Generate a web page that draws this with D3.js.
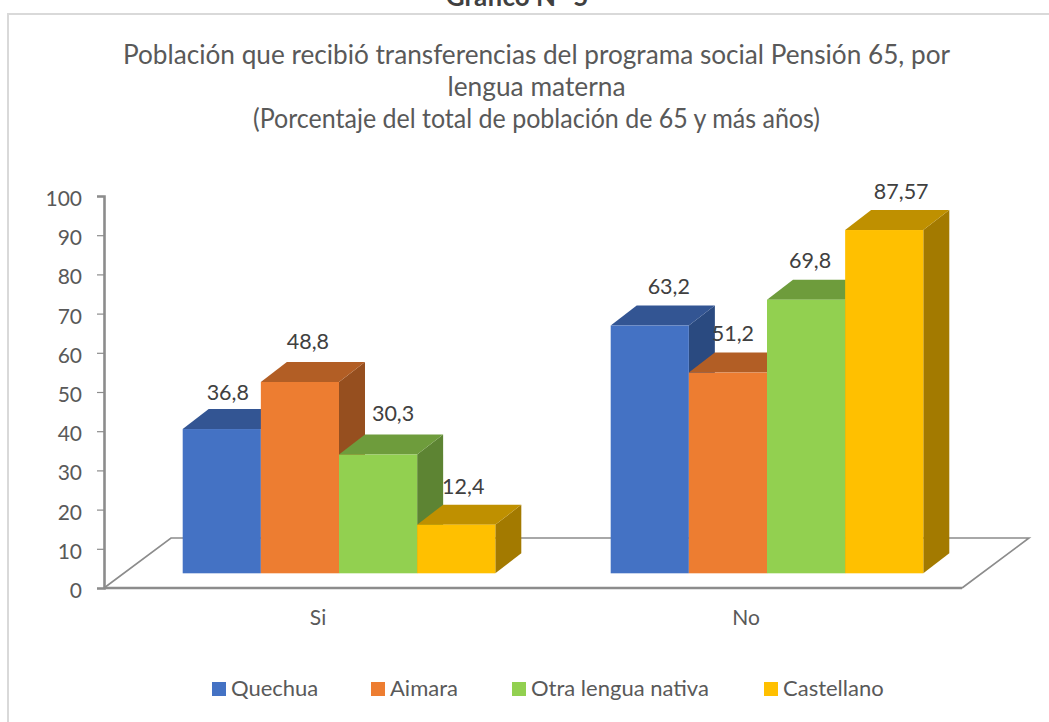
<!DOCTYPE html>
<html>
<head>
<meta charset="utf-8">
<script src="https://d3js.org/d3.v7.min.js"></script>
<style>
  html, body { margin: 0; padding: 0; background: #fff; overflow: hidden; }
  text { font-family: Lato, "Open Sans", sans-serif; fill: #595959; }
</style>
</head>
<body>
<div id="chart"></div>
<script>
var categories = ["Si", "No"];
var seriesNames = ["Quechua", "Aimara", "Otra lengua nativa", "Castellano"];
var quechua = [36.8, 63.2];
var aimara = [48.8, 51.2];
var otraLengua = [30.3, 69.8];
var castellano = [12.4, 87.57];
var seriesValues = [quechua, aimara, otraLengua, castellano];
var yTicks = d3.range(0, 101, 10);

var frontColors = ["#4472C4", "#ED7D31", "#92D050", "#FFC000"];
var topColors = ["#335593", "#B25E25", "#6E9C3C", "#BF9000"];
var sideColors = ["#2A4A80", "#964F1F", "#5D8433", "#A37A00"];

// data labels were moved by hand in the original, so they get their own nudges
var labelNudgeX = [[6, 19], [8, 5], [15, 4], [7, 17]];
var labelNudgeY = [[-29, -32], [-33, -32], [-34, -32], [-31, -31]];
var legendX = [212, 371, 512, 764];

var width = 1049, height = 722;
var depthX = 26, depthY = 20;
var floorLift = 14.7;

var svg = d3.select("#chart").append("svg")
  .attr("width", width)
  .attr("height", height);

// chart frame, only top and left show in the crop
svg.append("path")
  .attr("d", `M8,${height}V14H${width}`)
  .attr("fill", "none")
  .attr("stroke", "#d9d9d9")
  .attr("stroke-width", 2);

svg.append("text")
  .attr("x", 517)
  .attr("y", 6)
  .attr("text-anchor", "middle")
  .style("font-size", "26px")
  .style("font-weight", "700")
  .style("fill", "#404040")
  .text("Gráfico N° 5");

var titleLines = [
  "Población que recibió transferencias del programa social Pensión 65, por",
  "lengua materna",
  "(Porcentaje del total de población de 65 y más años)"
];
var titleWidths = [827, 178, 567];
svg.selectAll(".title")
  .data(titleLines)
  .enter().append("text")
  .attr("class", "title")
  .attr("x", 536.5)
  .attr("y", function(d, i) { return 64 + i * 32; })
  .attr("text-anchor", "middle")
  .attr("textLength", function(d, i) { return titleWidths[i]; })
  .attr("lengthAdjust", "spacingAndGlyphs")
  .style("font-size", "26px")
  .text(function(d) { return d; });

var y = d3.scaleLinear().domain([0, 100]).range([588, 196]);
var x0 = d3.scaleBand().domain(categories).range([104, 960]);
var x1 = d3.scaleBand().domain(d3.range(4)).range([78.7, 391.3]);

// floor of the 3d plot
var floorLeft = 104, floorRight = 962;
svg.append("path")
  .attr("d", `M${floorLeft},${y(0)}L171,${y(0) - 50}H1029L${floorRight},${y(0)}`)
  .attr("fill", "none")
  .attr("stroke", "#8c8c8c")
  .attr("stroke-width", 1.6);

var yAxis = svg.append("g")
  .attr("transform", "translate(104,0)")
  .call(d3.axisLeft(y).tickValues(yTicks).tickSizeOuter(0).tickSize(7).tickPadding(15));
yAxis.select(".domain").attr("stroke", "#8c8c8c").attr("stroke-width", 2.6);
yAxis.selectAll(".tick line").attr("stroke", "#8c8c8c").attr("stroke-width", 1.2);
yAxis.selectAll("text").attr("dy", "0.45em").style("font-size", "21px");

svg.append("line")
  .attr("x1", 104).attr("x2", floorRight)
  .attr("y1", y(0)).attr("y2", y(0))
  .attr("stroke", "#8c8c8c")
  .attr("stroke-width", 2.6);

var xLabels = svg.selectAll(".xlabel")
  .data(categories)
  .enter().append("text")
  .attr("class", "xlabel")
  .attr("x", function(d) { return x0(d) + x0.bandwidth() / 2; })
  .attr("y", 625)
  .attr("text-anchor", "middle")
  .style("font-size", "21px")
  .text(function(d) { return d; });

// bars go left to right so the next front face covers the previous side
categories.forEach(function(cat, c) {
  seriesValues.forEach(function(values, s) {
    var left = x0(cat) + x1(s);
    var right = left + x1.bandwidth();
    var base = y(0) - floorLift;
    var top = y(values[c]) - floorLift;

    svg.append("path")
      .attr("d", `M${right},${base}V${top}l${depthX},${-depthY}V${base - depthY}Z`)
      .attr("fill", sideColors[s]);
    svg.append("path")
      .attr("d", `M${left},${top}l${depthX},${-depthY}H${right + depthX}l${-depthX},${depthY}Z`)
      .attr("fill", topColors[s]);
    svg.append("rect")
      .attr("x", left)
      .attr("y", top)
      .attr("width", x1.bandwidth())
      .attr("height", base - top)
      .attr("fill", frontColors[s]);
  });
});

// labels last, "51,2" sits on top of the blue side
categories.forEach(function(cat, c) {
  seriesValues.forEach(function(values, s) {
    svg.append("text")
      .attr("x", x0(cat) + x1(s) + x1.bandwidth() / 2 + labelNudgeX[s][c])
      .attr("y", y(values[c]) - floorLift + labelNudgeY[s][c])
      .attr("text-anchor", "middle")
      .style("font-size", "21.5px")
      .style("fill", "#404040")
      .text(String(values[c]).replace(".", ","));
  });
});

var legend = svg.selectAll(".legend")
  .data(seriesNames)
  .enter().append("g")
  .attr("class", "legend")
  .attr("transform", function(d, i) { return `translate(${legendX[i]},682)`; });
legend.append("rect")
  .attr("width", 14)
  .attr("height", 14)
  .attr("fill", function(d, i) { return frontColors[i]; });
legend.append("text")
  .attr("x", 19)
  .attr("y", 14)
  .style("font-size", "22px")
  .text(function(d) { return d; });
</script>
</body>
</html>
